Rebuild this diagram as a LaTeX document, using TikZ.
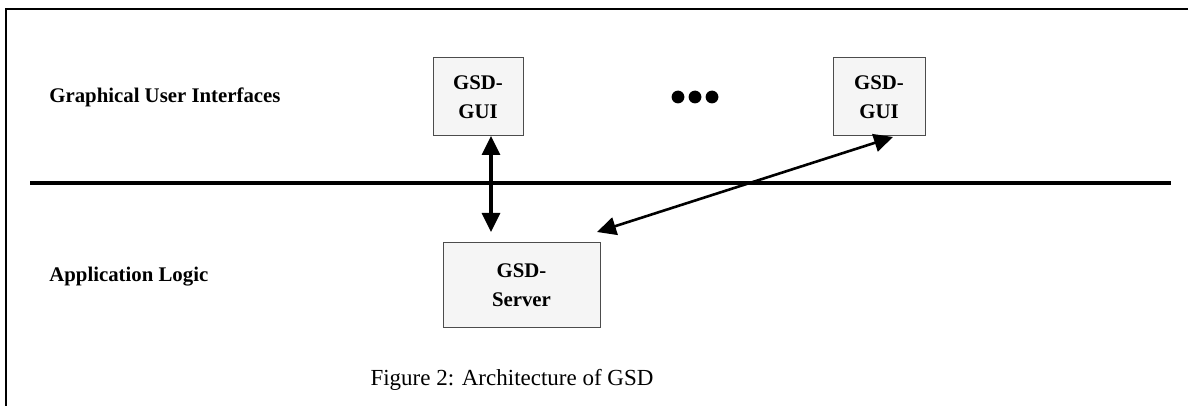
\documentclass[tikz,border=0pt]{standalone}
\usepackage{fontspec}
\setmainfont{Liberation Serif}
\usetikzlibrary{arrows.meta,positioning,calc}

\begin{document}
\begin{tikzpicture}[x=0.5pt,y=-0.5pt,>={Triangle[width=9pt,length=9.5pt]},
  comp/.style={draw=black!70,fill=black!4,line width=0.5pt,inner sep=0pt,
    align=center,font=\fontsize{10.4}{14.5}\selectfont\bfseries},
  layer/.style={anchor=west,inner sep=0pt,font=\fontsize{10.4}{12}\selectfont\bfseries}]
\useasboundingbox (0,0) rectangle (1188,406);
% frame
\draw[line width=1pt] (1190,9) -- (6,9) -- (6,410);
\node[layer] (guilbl) at (49,97) {Graphical User Interfaces};
\node[layer] (applbl) at (49,277) {Application Logic};
\draw[line width=2pt] (30,183) -- (1171,183);
% components
\node[comp,minimum width=45pt,minimum height=39pt] (gui1) at (478,97) {GSD-\\GUI};
\node[comp,minimum width=46pt,minimum height=39pt] (gui2) at (879,97) {GSD-\\GUI};
\node[comp,minimum width=78.5pt,minimum height=42pt] (server) at (521.5,285) {GSD-\\Server};
\foreach \k in {0,1,2}
  \fill (678+17*\k,97) circle (3.2pt);
\coordinate (a1) at (491,136);
\coordinate (b1) at (491,232);
\coordinate (a2) at (893,137);
\coordinate (b2) at (597,232);
\draw[<->,line width=1.7pt] (a1) -- (b1);
\draw[<->,line width=1.3pt] (b2) -- (a2);
\node[font=\fontsize{11.5}{13}\selectfont] (cap) at (512,380) {Figure 2: Architecture of GSD};
\end{tikzpicture}
\end{document}
